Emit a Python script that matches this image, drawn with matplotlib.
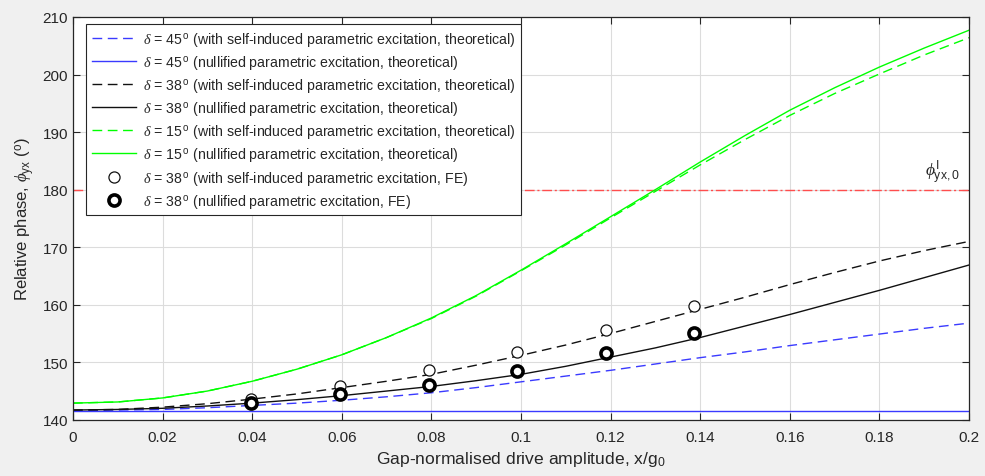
import numpy as np
import matplotlib
matplotlib.use("Agg")
import matplotlib.pyplot as plt

plt.rcParams["font.family"] = ["Liberation Sans", "DejaVu Sans"]
plt.rcParams["mathtext.fontset"] = "custom"
plt.rcParams["mathtext.rm"] = "Liberation Sans"
plt.rcParams["mathtext.it"] = "Liberation Serif:italic"
plt.rcParams["mathtext.bf"] = "Liberation Sans:bold"

# Gap-normalised drive amplitude
x = np.round(np.arange(0, 0.2001, 0.01), 2)

# Theoretical relative phase curves (degrees)
d45_self = [141.6, 141.7, 141.8, 142.1, 142.5, 142.9, 143.4, 144.0, 144.7, 145.6, 146.6,
            147.6, 148.6, 149.7, 150.8, 151.8, 152.9, 153.9, 154.9, 155.9, 156.8]
d45_null = [141.5] * 21
d38_self = [141.7, 141.8, 142.2, 142.8, 143.6, 144.5, 145.6, 146.7, 147.9, 149.5, 151.2,
            153.0, 155.0, 157.1, 159.2, 161.3, 163.5, 165.6, 167.6, 169.4, 171.0]
d38_null = [141.7, 141.8, 142.0, 142.4, 142.9, 143.5, 144.2, 145.0, 145.8, 146.8, 147.9,
            149.3, 150.9, 152.5, 154.3, 156.3, 158.3, 160.4, 162.5, 164.7, 166.9]
d15_self = [142.9, 143.1, 143.8, 145.0, 146.7, 148.8, 151.3, 154.3, 157.6, 161.5, 165.9,
            170.4, 175.1, 179.7, 184.3, 188.7, 192.9, 196.7, 200.1, 203.4, 206.4]
d15_null = [142.9, 143.1, 143.8, 145.0, 146.7, 148.8, 151.3, 154.3, 157.7, 161.6, 166.0,
            170.6, 175.3, 180.0, 184.8, 189.4, 193.8, 197.7, 201.3, 204.6, 207.7]

# Finite-element results for delta = 38 deg
fe_x = [0.0397, 0.0595, 0.0794, 0.0991, 0.1189, 0.1386]
fe_self = [143.7, 145.8, 148.6, 151.8, 155.6, 159.7]
fe_null = [143.0, 144.4, 146.1, 148.4, 151.6, 155.1]

# Reference phase level
phi_ref = 180.0

xticks = [0, 0.02, 0.04, 0.06, 0.08, 0.1, 0.12, 0.14, 0.16, 0.18, 0.2]
xticklabels = ["0", "0.02", "0.04", "0.06", "0.08", "0.1", "0.12", "0.14", "0.16", "0.18", "0.2"]
yticks = [140, 150, 160, 170, 180, 190, 200, 210]

blue = "#3a3aff"
green = "#00ff00"
red = "#ff4d4d"
dash = (0, (7, 4))

fig = plt.figure(figsize=(9.85, 4.77), dpi=100, facecolor="#f0f0f0")
ax = fig.add_axes([0.0741, 0.1178, 0.9097, 0.8445])
ax.set_facecolor("white")

ax.plot(x, [phi_ref] * len(x), color=red, lw=1.0, ls=(0, (7, 2, 1.5, 2)), zorder=1)

l1, = ax.plot(x, d45_self, color=blue, lw=1.0, ls=dash,
              label=r"$\delta$ = 45$^{\,\rm o}$ (with self-induced parametric excitation, theoretical)")
l2, = ax.plot(x, d45_null, color=blue, lw=1.0,
              label=r"$\delta$ = 45$^{\,\rm o}$ (nullified parametric excitation, theoretical)")
l3, = ax.plot(x, d38_self, color="#111111", lw=1.0, ls=dash,
              label=r"$\delta$ = 38$^{\,\rm o}$ (with self-induced parametric excitation, theoretical)")
l4, = ax.plot(x, d38_null, color="#111111", lw=1.0,
              label=r"$\delta$ = 38$^{\,\rm o}$ (nullified parametric excitation, theoretical)")
l5, = ax.plot(x, d15_self, color=green, lw=1.0, ls=dash,
              label=r"$\delta$ = 15$^{\,\rm o}$ (with self-induced parametric excitation, theoretical)")
l6, = ax.plot(x, d15_null, color=green, lw=1.0,
              label=r"$\delta$ = 15$^{\,\rm o}$ (nullified parametric excitation, theoretical)")
l7, = ax.plot(fe_x, fe_self, ls="none", marker="o", ms=8, mfc="white", mec="#111111", mew=0.9,
              label=r"$\delta$ = 38$^{\,\rm o}$ (with self-induced parametric excitation, FE)")
l8, = ax.plot(fe_x, fe_null, ls="none", marker="o", ms=8, mfc="white", mec="black", mew=2.6,
              label=r"$\delta$ = 38$^{\,\rm o}$ (nullified parametric excitation, FE)")

ax.text(0.1978, 180.6, r"$\phi^{\rm I}_{\rm yx,0}$", ha="right", va="bottom",
        fontsize=12.5, color="#262626")

ax.set_xlim(0, 0.2)
ax.set_ylim(140, 210)
ax.set_xticks(xticks)
ax.set_xticklabels(xticklabels)
ax.set_yticks(yticks)
ax.grid(True, color="#dcdcdc", lw=0.8)
ax.set_axisbelow(True)
ax.tick_params(direction="in", top=True, right=True, labelsize=11, colors="#262626",
               length=5, width=0.8)
ax.tick_params(axis="x", pad=7)
for s in ax.spines.values():
    s.set_color("#262626")
    s.set_linewidth(0.9)

ax.set_xlabel(r"Gap-normalised drive amplitude, x/g$_{\rm 0}$", fontsize=12.6, color="#262626",
              labelpad=4)
ax.set_ylabel(r"Relative phase, $\phi_{\rm yx}$ ($^{\rm o}$)", fontsize=12, color="#262626",
              labelpad=4)

leg = ax.legend(handles=[l1, l2, l3, l4, l5, l6, l7, l8], loc="upper left",
                bbox_to_anchor=(0.0145, 0.982), borderaxespad=0, fontsize=10.2,
                handlelength=3.1, handletextpad=0.5, labelspacing=0.36,
                borderpad=0.4, fancybox=False, framealpha=1, edgecolor="#262626")
leg.get_frame().set_linewidth(0.8)
for t in leg.get_texts():
    t.set_color("#262626")

fig.savefig("out.png", dpi=100, facecolor=fig.get_facecolor())
